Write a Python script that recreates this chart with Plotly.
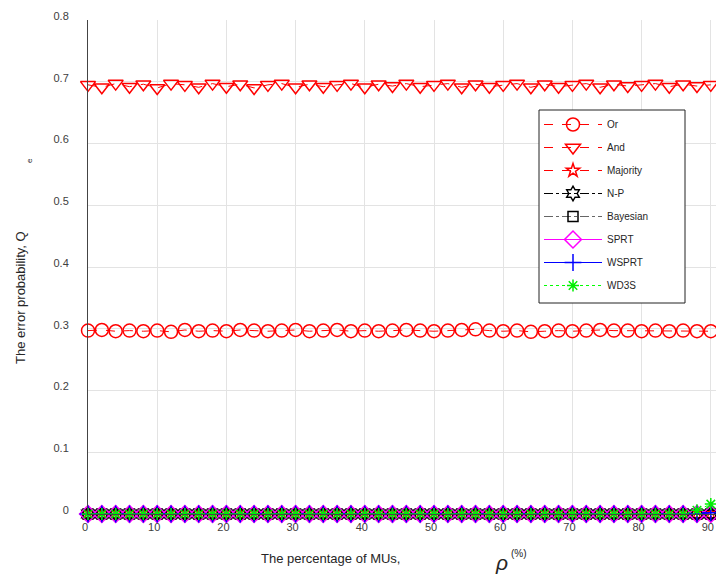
import plotly.graph_objects as go

# Percentage of malicious users (x axis) and error probability per fusion rule
rho = list(range(0, 92, 2))

q_or = [0.297, 0.298, 0.296, 0.297, 0.296, 0.297, 0.295, 0.298, 0.296, 0.297,
        0.296, 0.298, 0.297, 0.296, 0.297, 0.298, 0.296, 0.297, 0.298, 0.296,
        0.297, 0.296, 0.297, 0.298, 0.297, 0.296, 0.297, 0.298, 0.299, 0.297,
        0.296, 0.297, 0.295, 0.296, 0.297, 0.296, 0.297, 0.298, 0.297, 0.297,
        0.296, 0.297, 0.296, 0.297, 0.296, 0.296]
q_and = [0.695, 0.691, 0.697, 0.692, 0.696, 0.690, 0.697, 0.695, 0.691, 0.697,
         0.692, 0.696, 0.690, 0.695, 0.697, 0.691, 0.696, 0.692, 0.695, 0.697,
         0.691, 0.696, 0.693, 0.697, 0.692, 0.695, 0.697, 0.691, 0.696, 0.692,
         0.695, 0.697, 0.691, 0.696, 0.692, 0.695, 0.697, 0.691, 0.696, 0.693,
         0.695, 0.697, 0.692, 0.696, 0.693, 0.695]
zeros = [0.0] * 46
q_majority = zeros
q_np = zeros
q_bayes = zeros
q_sprt = zeros
q_wsprt = [0.0] * 45 + [0.002]
q_wd3s = [0.0] * 44 + [0.006, 0.016]

W, H = 716, 576
L, R, T, B = 88, 0, 20, 62
PW, PH = W - L - R, H - T - B


def px_x(x):
    return (x - L) / PW


def px_y(y):
    return (H - B - y) / PH


FONT = "Liberation Sans, Arial, sans-serif"

series = [
    ("Or", q_or, "circle-open", "#ff0000", "#ff0000", "dash", 13),
    ("And", q_and, "triangle-down-open", "#ff0000", "#ff0000", "dash", 13),
    ("Majority", q_majority, "star-open", "#ff0000", "#ff0000", "dash", 10),
    ("N-P", q_np, "hexagram-open", "#000000", "#000000", "dashdot", 11),
    ("Bayesian", q_bayes, "square-open", "#666666", "#000000", "dashdot", 10),
    ("SPRT", q_sprt, "diamond-open", "#ff00ff", "#ff00ff", "solid", 13),
    ("WSPRT", q_wsprt, "cross-thin-open", "#0000ff", "#0000ff", "solid", 12),
    ("WD3S", q_wd3s, "asterisk-open", "#00ff00", "#00ee00", "dot", 10),
]

fig = go.Figure()
for i, (name, ys, sym, lc, mc, dash, size) in enumerate(series):
    fig.add_trace(go.Scatter(
        x=rho, y=ys, name=name, mode="lines+markers",
        line=dict(color=lc, dash=dash, width=1),
        marker=dict(symbol=sym, size=size, color=mc,
                    line=dict(color=mc, width=1.5)),
        cliponaxis=False, legendgroup=f"g{i}",
    ))

# legend frame, drawn as a shape so it can be wider than the entries
fig.add_shape(type="rect", xref="paper", yref="paper",
              x0=px_x(539), x1=px_x(685), y0=px_y(303), y1=px_y(110),
              fillcolor="white", line=dict(color="#222222", width=1),
              layer="above")

fig.update_layout(
    width=W, height=H,
    margin=dict(l=L, r=R, t=T, b=B),
    paper_bgcolor="white", plot_bgcolor="white",
    font=dict(family=FONT, size=11, color="#404040"),
    showlegend=True,
    legend=dict(
        x=px_x(539), y=px_y(110), xanchor="left", yanchor="top",
        bgcolor="rgba(0,0,0,0)", borderwidth=0,
        font=dict(family=FONT, size=10, color="#262626"),
        itemwidth=58, tracegroupgap=4,
    ),
    xaxis=dict(
        range=[0, 90.75], tickvals=list(range(0, 100, 10)),
        showgrid=True, gridcolor="#e3e3e3", gridwidth=1,
        showline=True, linecolor="#444444", linewidth=1,
        zeroline=False, ticks="", ticklabelshift=-3, ticklabelstandoff=3,
        tickfont=dict(size=11, color="#404040"),
    ),
    yaxis=dict(
        range=[0, 0.8], tickvals=[0, 0.1, 0.2, 0.3, 0.4, 0.5, 0.6, 0.7, 0.8],
        ticktext=["0", "0.1", "0.2", "0.3", "0.4", "0.5", "0.6", "0.7", "0.8"],
        showgrid=True, gridcolor="#e3e3e3", gridwidth=1,
        showline=True, linecolor="#444444", linewidth=1,
        zeroline=False, ticks="", ticklabelshift=-4, ticklabelstandoff=16,
        tickfont=dict(size=11, color="#404040"),
    ),
)

annotations = [
    dict(text="The error probability, Q", x=px_x(20), y=px_y(298),
         textangle=-90, font=dict(size=13, color="#262626")),
    dict(text="e", x=px_x(29), y=px_y(160), textangle=-90,
         font=dict(size=8, color="#262626")),
    dict(text="The percentage of MUs,", x=px_x(330), y=px_y(558),
         font=dict(size=13, color="#262626")),
    dict(text="<i>ρ</i>", x=px_x(501), y=px_y(562),
         font=dict(family=FONT, size=21, color="#262626")),
    dict(text="(%)", x=px_x(519), y=px_y(553),
         font=dict(size=10, color="#262626")),
]
for a in annotations:
    fig.add_annotation(xref="paper", yref="paper", showarrow=False,
                       xanchor="center", yanchor="middle", **a)

fig.write_html("out.html")
